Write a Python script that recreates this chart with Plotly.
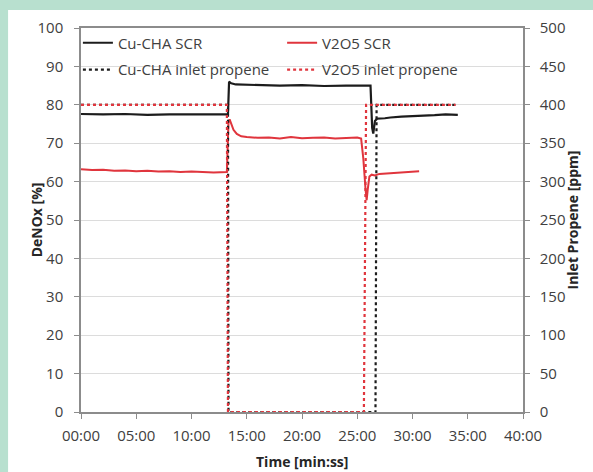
import plotly.graph_objects as go

# Time axis in minutes; labels shown as mm:ss
tick_vals = [0, 5, 10, 15, 20, 25, 30, 35, 40]
tick_text = ["00:00", "05:00", "10:00", "15:00", "20:00", "25:00", "30:00", "35:00", "40:00"]

# DeNOx [%] - Cu-CHA SCR
cu_t = [0, 2, 4, 6, 8, 10, 12, 13.3, 13.4, 13.6, 14, 15, 16, 18, 20, 22, 24, 26.2,
        26.35, 26.45, 26.6, 26.8, 27.5, 28, 29, 30, 31, 32, 33, 34.1]
cu_v = [77.6, 77.5, 77.6, 77.4, 77.5, 77.5, 77.4, 77.5, 86.0, 85.6, 85.3, 85.2, 85.1, 85.0,
        85.1, 84.9, 85.0, 85.0, 74.0, 72.5, 75.8, 76.4, 76.5, 76.7, 76.9, 77.0, 77.2, 77.3,
        77.5, 77.4]

# DeNOx [%] - V2O5 SCR
v_t = [0, 1, 2, 3, 4, 5, 6, 7, 8, 9, 10, 11, 12, 13.2, 13.35, 13.45, 13.6, 13.8, 14.1,
       14.5, 15, 16, 17, 18, 19, 20, 21, 22, 23, 24, 25, 25.35, 25.55, 25.75, 25.85, 25.95,
       26.1, 26.3, 26.6, 27, 28, 29, 30, 30.6]
v_v = [63.2, 63.0, 63.1, 62.8, 62.9, 62.7, 62.8, 62.6, 62.7, 62.5, 62.6, 62.5, 62.4, 62.5,
       75.5, 76.2, 75.0, 73.5, 72.4, 71.8, 71.6, 71.4, 71.5, 71.2, 71.6, 71.3, 71.4, 71.5,
       71.2, 71.3, 71.5, 71.2, 66.0, 58.0, 55.2, 58.0, 61.3, 61.8, 61.6, 62.0, 62.2, 62.4,
       62.5, 62.7]

# Inlet propene [ppm]
cu_prop_t = [0, 13.3, 13.35, 26.65, 26.75, 33.9]
cu_prop_v = [400, 400, 0, 0, 400, 400]
v_prop_t = [0, 13.2, 13.3, 25.6, 25.8, 33.9]
v_prop_v = [400, 400, 0, 0, 400, 400]

BLACK = "#1c1c1c"
RED = "#e0353d"
FONT = "Open Sans"
TXT = "#404040"

fig = go.Figure()
fig.add_trace(go.Scatter(x=cu_prop_t, y=cu_prop_v, yaxis="y2", mode="lines",
                         name="Cu-CHA inlet propene", legend="legend3", showlegend=True,
                         line=dict(color=BLACK, width=2.2, dash="dot")))
fig.add_trace(go.Scatter(x=v_prop_t, y=v_prop_v, yaxis="y2", mode="lines",
                         name="V2O5 inlet propene", legend="legend4", showlegend=True,
                         line=dict(color=RED, width=2.2, dash="dot")))
fig.add_trace(go.Scatter(x=cu_t, y=cu_v, mode="lines", name="Cu-CHA SCR",
                         legend="legend", showlegend=True,
                         line=dict(color=BLACK, width=2.2)))
fig.add_trace(go.Scatter(x=v_t, y=v_v, mode="lines", name="V2O5 SCR",
                         legend="legend2", showlegend=True,
                         line=dict(color=RED, width=2)))

axis_common = dict(showline=True, linecolor="#8c8c8c", linewidth=1.5, ticks="outside",
                   ticklen=5, tickcolor="#8c8c8c", zeroline=False,
                   tickfont=dict(family=FONT, size=15, color=TXT))

legend_common = dict(xanchor="left", yanchor="middle",
                     bgcolor="rgba(0,0,0,0)", borderwidth=0, itemwidth=30,
                     font=dict(family=FONT, size=15, color=TXT))

# two columns x two rows of legend entries
COL1, COL2 = -0.007, 0.455
ROW1, ROW2 = 0.961, 0.891

fig.update_layout(
    width=593, height=472,
    margin=dict(l=81, r=70, t=28, b=60),
    showlegend=True,
    paper_bgcolor="#b8e0cf",
    plot_bgcolor="white",
    font=dict(family=FONT, size=15, color=TXT),
    xaxis=dict(range=[0, 40], tickvals=tick_vals, ticktext=tick_text, showgrid=False,
               mirror=True, ticklabelstandoff=4, **axis_common),
    yaxis=dict(range=[0, 100], dtick=10, showgrid=True, gridcolor="#dcdcdc",
               gridwidth=1, ticklabelstandoff=8, **axis_common),
    yaxis2=dict(range=[0, 500], dtick=50, overlaying="y", side="right",
                showgrid=False, ticklabelstandoff=7, **axis_common),
    legend=dict(x=COL1, y=ROW1, **legend_common),
    legend2=dict(x=COL2, y=ROW1, **legend_common),
    legend3=dict(x=COL1, y=ROW2, **legend_common),
    legend4=dict(x=COL2, y=ROW2, **legend_common),
    shapes=[
        # white page area
        dict(type="rect", xref="paper", yref="paper", x0=-0.165, x1=1.25,
             y0=-0.25, y1=1.047, fillcolor="white", line=dict(width=0), layer="below"),
        # legend backdrop, above gridlines but under the data lines
        dict(type="rect", xref="paper", yref="paper", x0=0.007, x1=0.885,
             y0=0.87, y1=0.984, fillcolor="white", line=dict(width=0), layer="between"),
    ],
    annotations=[
        dict(text="<b>Time [min:ss]</b>", xref="paper", yref="paper", x=0.5, y=-0.13,
             yanchor="middle", showarrow=False,
             font=dict(family=FONT, size=14, color="#262626")),
        dict(text="<b>DeNOx [%]</b>", xref="paper", yref="paper", x=-0.127, y=0.5,
             textangle=-90, showarrow=False,
             font=dict(family=FONT, size=14, color="#262626")),
        dict(text="<b>Inlet Propene [ppm]</b>", xref="paper", yref="paper", x=1.138,
             y=0.5, textangle=-90, showarrow=False,
             font=dict(family=FONT, size=14, color="#262626")),
    ],
)

fig.write_html("out.html")
